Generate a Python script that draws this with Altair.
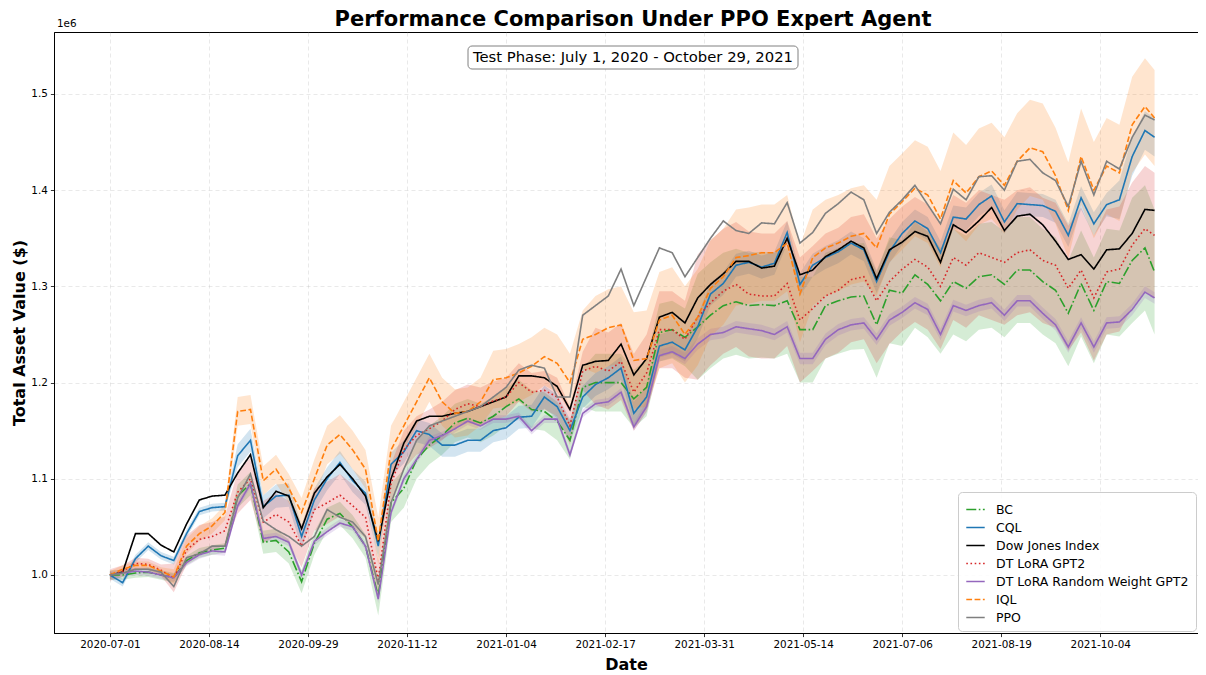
import altair as alt
import pandas as pd

# ---------------- data (values in units of 1e6 $) ----------------
TICK_DATES = ["2020-07-01", "2020-08-14", "2020-09-29", "2020-11-12", "2021-01-04",
              "2021-02-17", "2021-03-31", "2021-05-14", "2021-07-06", "2021-08-19", "2021-10-04"]
TICK_IDX = [0, 31, 62, 93, 124, 155, 186, 217, 248, 279, 310]

day_idx = list(range(0, 325, 4)) + [327]

dow = [1.000, 1.003, 1.043, 1.043, 1.031, 1.024, 1.053, 1.078, 1.082, 1.083,
       1.106, 1.125, 1.070, 1.087, 1.082, 1.048, 1.085, 1.102, 1.115, 1.100,
       1.082, 1.035, 1.100, 1.137, 1.160, 1.165, 1.165, 1.168, 1.170, 1.175,
       1.180, 1.185, 1.207, 1.207, 1.205, 1.196, 1.172, 1.218, 1.222, 1.223,
       1.240, 1.208, 1.225, 1.268, 1.273, 1.262, 1.288, 1.302, 1.313, 1.326,
       1.326, 1.319, 1.321, 1.350, 1.312, 1.317, 1.331, 1.338, 1.347, 1.340,
       1.308, 1.338, 1.346, 1.357, 1.352, 1.325, 1.364, 1.356, 1.368, 1.382,
       1.358, 1.373, 1.375, 1.364, 1.347, 1.328, 1.333, 1.318, 1.338, 1.339,
       1.355, 1.380, 1.379]

ppo = [1.000, 1.002, 1.006, 1.006, 1.003, 0.988, 1.018, 1.022, 1.030, 1.030,
       1.080, 1.105, 1.056, 1.047, 1.040, 1.030, 1.040, 1.068, 1.060, 1.055,
       1.040, 0.990, 1.075, 1.110, 1.140, 1.155, 1.160, 1.165, 1.170, 1.175,
       1.185, 1.195, 1.213, 1.218, 1.215, 1.185, 1.185, 1.270, 1.280, 1.290,
       1.318, 1.280, 1.310, 1.340, 1.335, 1.310, 1.330, 1.350, 1.368, 1.358,
       1.355, 1.366, 1.365, 1.387, 1.345, 1.356, 1.376, 1.386, 1.398, 1.390,
       1.355, 1.377, 1.390, 1.405, 1.385, 1.365, 1.401, 1.390, 1.414, 1.415,
       1.400, 1.430, 1.432, 1.418, 1.410, 1.383, 1.430, 1.395, 1.430, 1.422,
       1.455, 1.478, 1.473]

iql = [1.000, 1.006, 1.010, 1.010, 1.004, 0.998, 1.030, 1.043, 1.051, 1.065,
       1.170, 1.172, 1.098, 1.110, 1.090, 1.065, 1.100, 1.135, 1.146, 1.130,
       1.110, 1.035, 1.130, 1.155, 1.180, 1.205, 1.180, 1.168, 1.170, 1.180,
       1.203, 1.205, 1.210, 1.217, 1.227, 1.220, 1.200, 1.245, 1.250, 1.257,
       1.260, 1.223, 1.225, 1.265, 1.270, 1.250, 1.268, 1.298, 1.310, 1.330,
       1.332, 1.335, 1.335, 1.345, 1.292, 1.330, 1.340, 1.345, 1.352, 1.355,
       1.340, 1.375, 1.388, 1.402, 1.395, 1.370, 1.410, 1.397, 1.414, 1.420,
       1.405, 1.430, 1.444, 1.440, 1.415, 1.379, 1.435, 1.400, 1.425, 1.418,
       1.468, 1.487, 1.475]

cql = [1.000, 0.992, 1.017, 1.030, 1.020, 1.015, 1.043, 1.066, 1.070, 1.071,
       1.124, 1.140, 1.071, 1.082, 1.083, 1.040, 1.078, 1.100, 1.117, 1.098,
       1.085, 1.030, 1.115, 1.128, 1.150, 1.146, 1.135, 1.135, 1.140, 1.140,
       1.150, 1.153, 1.164, 1.165, 1.185, 1.175, 1.150, 1.185, 1.198, 1.205,
       1.215, 1.168, 1.185, 1.238, 1.242, 1.234, 1.258, 1.292, 1.303, 1.322,
       1.325, 1.320, 1.324, 1.356, 1.302, 1.322, 1.330, 1.336, 1.345, 1.338,
       1.305, 1.336, 1.355, 1.368, 1.360, 1.335, 1.372, 1.370, 1.385, 1.394,
       1.367, 1.386, 1.385, 1.384, 1.378, 1.353, 1.392, 1.365, 1.385, 1.390,
       1.435, 1.462, 1.455]

dt_gpt2 = [1.000, 1.004, 1.012, 1.011, 1.005, 0.997, 1.026, 1.037, 1.040, 1.046,
           1.086, 1.100, 1.055, 1.063, 1.055, 1.030, 1.068, 1.075, 1.083, 1.072,
           1.060, 0.995, 1.095, 1.130, 1.145, 1.152, 1.160, 1.172, 1.178, 1.175,
           1.181, 1.185, 1.200, 1.190, 1.192, 1.185, 1.155, 1.212, 1.217, 1.212,
           1.222, 1.190, 1.210, 1.255, 1.255, 1.245, 1.268, 1.283, 1.295, 1.302,
           1.292, 1.290, 1.290, 1.303, 1.265, 1.277, 1.290, 1.296, 1.307, 1.310,
           1.285, 1.305, 1.318, 1.328, 1.320, 1.300, 1.330, 1.322, 1.335, 1.330,
           1.325, 1.335, 1.338, 1.327, 1.322, 1.298, 1.317, 1.288, 1.315, 1.318,
           1.343, 1.360, 1.353]

dt_random = [1.000, 1.002, 1.004, 1.003, 1.000, 0.997, 1.013, 1.021, 1.025, 1.024,
             1.072, 1.095, 1.038, 1.040, 1.034, 1.000, 1.035, 1.045, 1.054, 1.050,
             1.030, 0.975, 1.065, 1.100, 1.120, 1.140, 1.145, 1.152, 1.160, 1.155,
             1.162, 1.162, 1.165, 1.150, 1.162, 1.162, 1.125, 1.168, 1.178, 1.180,
             1.190, 1.154, 1.175, 1.228, 1.232, 1.225, 1.240, 1.250, 1.252, 1.258,
             1.256, 1.254, 1.250, 1.258, 1.225, 1.225, 1.245, 1.255, 1.260, 1.262,
             1.245, 1.265, 1.273, 1.283, 1.276, 1.250, 1.280, 1.275, 1.280, 1.283,
             1.270, 1.285, 1.285, 1.272, 1.260, 1.237, 1.262, 1.237, 1.262, 1.263,
             1.276, 1.294, 1.288]

bc = [1.000, 1.000, 1.002, 1.003, 1.000, 0.997, 1.015, 1.023, 1.026, 1.028,
      1.082, 1.095, 1.034, 1.036, 1.024, 0.993, 1.033, 1.058, 1.064, 1.050,
      1.030, 0.978, 1.075, 1.090, 1.120, 1.135, 1.145, 1.158, 1.163, 1.158,
      1.165, 1.175, 1.183, 1.172, 1.170, 1.160, 1.140, 1.195, 1.200, 1.200,
      1.200, 1.183, 1.195, 1.252, 1.255, 1.247, 1.258, 1.270, 1.280, 1.284,
      1.280, 1.281, 1.280, 1.285, 1.255, 1.255, 1.280, 1.285, 1.289, 1.290,
      1.260, 1.296, 1.293, 1.312, 1.302, 1.285, 1.305, 1.298, 1.310, 1.312,
      1.302, 1.317, 1.317, 1.305, 1.296, 1.272, 1.303, 1.275, 1.305, 1.303,
      1.327, 1.340, 1.315]

# half-widths of the shaded bands
iql_band = [0.004] * 5 + [0.008] * 5 + [0.015] * 6 + [0.020] * 5 + [0.025] * 9 + [0.030] * 8 + [0.040] * 3 + [0.050] * 42
cql_band = [0.004] * 10 + [0.012] * 69 + [0.020] * 4
dt_gpt2_band = [0.006] * 5 + [0.015] * 5 + [0.022] * 11 + [0.020] * 17 + [0.040] * 8 + [0.065] * 37
dt_random_band = [0.004] * 42 + [0.006] * 41
bc_band = [0.005] * 10 + [0.012] * 11 + [0.020] * 17 + [0.030] * 8 + [0.055] * 34 + [0.065] * 3

NAMES = ["BC", "CQL", "Dow Jones Index", "DT LoRA GPT2", "DT LoRA Random Weight GPT2", "IQL", "PPO"]
COLORS = ["#2ca02c", "#1f77b4", "#000000", "#d62728", "#9467bd", "#ff7f0e", "#7f7f7f"]
DASHES = [[10, 2.5, 1.6, 2.5], [1, 0], [1, 0], [1.6, 2.6], [1, 0], [5.8, 2.5], [1, 0]]

TITLE = "Performance Comparison Under PPO Expert Agent"
NOTE = "Test Phase: July 1, 2020 - October 29, 2021"

VALUES = [bc, cql, dow, dt_gpt2, dt_random, iql, ppo]
BANDS = {"BC": bc_band, "CQL": cql_band, "DT LoRA GPT2": dt_gpt2_band,
         "DT LoRA Random Weight GPT2": dt_random_band, "IQL": iql_band}

rows = []
band_rows = []
for name, col, vals in zip(NAMES, COLORS, VALUES):
    for i, v in zip(day_idx, vals):
        rows.append({"idx": i, "series": name, "value": v})
    if name in BANDS:
        for i, v, h in zip(day_idx, vals, BANDS[name]):
            band_rows.append({"idx": i, "series": name, "lo": v - h, "hi": v + h, "hex": col})
line_df = pd.DataFrame(rows)
band_df = pd.DataFrame(band_rows)

FONT = "DejaVu Sans"
LEFT = 46
W, H = 1144, 601

label_expr = "[" + ",".join("'" + d + "'" for d in TICK_DATES) + "][round(datum.value/31)]"

x_scale = alt.Scale(domain=[-17.5, 340.6], nice=False, zero=False)
y_scale = alt.Scale(domain=[0.9397, 1.5644], nice=False, zero=False)

x_axis = alt.Axis(values=TICK_IDX, labelExpr=label_expr, title="Date", titleFontSize=16,
                  titleFontWeight="bold", titlePadding=6, labelFontSize=10.4, tickSize=3.6,
                  labelPadding=3, grid=True, labelFlush=False)
y_axis = alt.Axis(values=[1.0, 1.1, 1.2, 1.3, 1.4, 1.5], format=".1f", title="Total Asset Value ($)",
                  titleFontSize=16, titleFontWeight="bold", titlePadding=3, labelFontSize=10.4,
                  tickSize=3.6, labelPadding=3, grid=True)

bands = alt.Chart(band_df).mark_area(opacity=0.2).encode(
    x=alt.X("idx:Q", scale=x_scale, axis=x_axis),
    y=alt.Y("lo:Q", scale=y_scale, axis=y_axis),
    y2="hi:Q",
    fill=alt.Fill("hex:N", scale=None),
    detail="series:N",
)

legend = alt.Legend(title=None, orient="none", legendX=904, legendY=460, symbolType="stroke",
                    symbolSize=340, symbolStrokeWidth=1.6, labelFontSize=12.5, labelFont=FONT,
                    fillColor="rgba(255,255,255,0.85)", strokeColor="#cccccc", cornerRadius=4,
                    padding=7, rowPadding=1, labelLimit=400, labelOffset=10)

lines = alt.Chart(line_df).mark_line(strokeWidth=1.6).encode(
    x=alt.X("idx:Q", scale=x_scale),
    y=alt.Y("value:Q", scale=y_scale),
    color=alt.Color("series:N", scale=alt.Scale(domain=NAMES, range=COLORS), legend=legend),
    strokeDash=alt.StrokeDash("series:N", scale=alt.Scale(domain=NAMES, range=DASHES), legend=legend),
)

note_df = pd.DataFrame({"t": [NOTE]})
box = alt.Chart(note_df).mark_rect(fill="white", stroke="#808080", strokeWidth=1, cornerRadius=4).encode(
    x=alt.value(414), x2=alt.value(744), y=alt.value(14), y2=alt.value(37))
note = alt.Chart(note_df).mark_text(font=FONT, fontSize=14.8, color="black", baseline="middle",
                                    align="center").encode(
    x=alt.value(579), y=alt.value(25.5), text="t:N")

exp_df = pd.DataFrame({"t": ["1e6"]})
exp_text = alt.Chart(exp_df).mark_text(font=FONT, fontSize=10.4, color="black", baseline="bottom",
                                       align="left").encode(
    x=alt.value(3), y=alt.value(-3), text="t:N")

title_df = pd.DataFrame({"t": [TITLE]})
title_text = alt.Chart(title_df).mark_text(font=FONT, fontSize=21, fontWeight="bold", color="black",
                                           baseline="alphabetic", align="center").encode(
    x=alt.value(579), y=alt.value(-6), text="t:N")

chart = alt.layer(bands, lines, box, note, exp_text, title_text).properties(
    width=W, height=H,
    autosize=alt.AutoSizeParams(type="none"),
    padding={"left": LEFT, "top": 24, "right": 0, "bottom": 40},
).configure(font=FONT).configure_view(
    stroke="black", strokeWidth=1
).configure_axis(
    labelFont=FONT, titleFont=FONT, labelColor="black", titleColor="black",
    domainColor="black", tickColor="black", domainWidth=1, tickWidth=0.8,
    gridColor="#b0b0b0", gridOpacity=0.35, gridDash=[4, 3], gridWidth=0.8,
)

chart.save("out.html", embed_options={"renderer": "svg", "actions": False})
